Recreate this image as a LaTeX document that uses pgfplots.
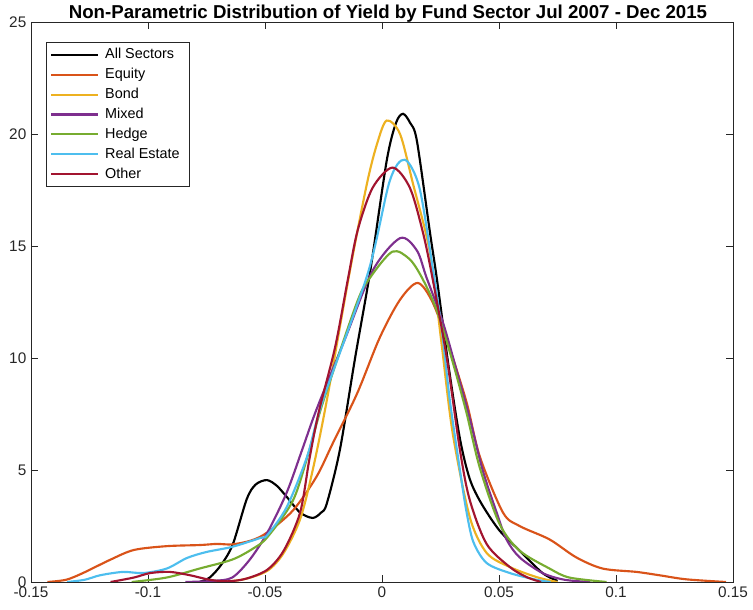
\documentclass[border=0pt]{standalone}
\usepackage{fontspec}
\setmainfont{Liberation Sans}
\usepackage{pgfplots}
\pgfplotsset{compat=1.18}

\definecolor{axgray}{HTML}{262626}
\definecolor{mOrange}{HTML}{D95319}
\definecolor{mYellow}{HTML}{EDB120}
\definecolor{mPurple}{HTML}{7E2F8E}
\definecolor{mGreen}{HTML}{77AC30}
\definecolor{mBlue}{HTML}{4DBEEE}
\definecolor{mRed}{HTML}{A2142F}

\begin{document}
\begin{tikzpicture}
\path[use as bounding box] (-23.25pt,-21pt) rectangle (541.5pt,436.5pt);
\begin{axis}[
  scale only axis, width=526.5pt, height=420pt,
  at={(0,0)}, anchor=south west,
  xmin=-0.15, xmax=0.15, ymin=0, ymax=25,
  xtick={-0.15,-0.1,-0.05,0,0.05,0.1,0.15},
  xticklabels={-0.15,-0.1,-0.05,0,0.05,0.1,0.15},
  ytick={0,5,10,15,20,25},
  /pgf/number format/assume math mode=true,
  tick label style={font=\fontsize{11.5}{13}\selectfont, text=axgray},
  axis line style={axgray, line width=0.6pt},
  major tick style={axgray, line width=0.6pt},
  major tick length=5pt,
  tick align=inside,
  every axis title shift=0pt,
  title={Non-Parametric Distribution of Yield by Fund Sector Jul 2007 - Dec 2015},
  title style={font=\fontsize{14}{16}\selectfont\bfseries, at={(0.5,1)}, anchor=base,
    yshift=2.5pt, xshift=4.5pt},
  legend cell align=left,
  legend style={at={(0.0214,0.964)}, anchor=north west, draw=axgray, line width=0.6pt,
    font=\fontsize{10.8}{12}\selectfont, inner xsep=3pt, inner ysep=2.5pt, row sep=1.6pt,
    nodes={inner xsep=4.5pt}},
  legend image code/.code={\draw[#1, line width=1.6pt] (0pt,0pt) -- (35pt,0pt);},
  every axis plot/.append style={line width=1.6pt, smooth, tension=0.5},
]
% All Sectors
\addplot[black] coordinates {
 (-0.078,0) (-0.0736,0.2) (-0.0685,0.8) (-0.0637,1.7) (-0.0578,3.7) (-0.054,4.35) (-0.0492,4.55)
 (-0.045,4.3) (-0.0407,3.8) (-0.035,3.1) (-0.0296,2.86) (-0.026,3.1) (-0.0236,3.5) (-0.018,5.9)
 (-0.0115,10.0) (-0.005,13.9) (0.002,18.8) (0.006,20.5) (0.009,20.9) (0.012,20.5) (0.0149,19.7)
 (0.0205,15.6) (0.0235,13.5) (0.0285,9.6) (0.0333,6.4) (0.0375,4.6) (0.0425,3.5) (0.0502,2.3)
 (0.0588,1.4) (0.0686,0.4) (0.075,0.05)
};
% Equity
\addplot[mOrange] coordinates {
 (-0.143,0) (-0.135,0.1) (-0.1278,0.4) (-0.116,1.0) (-0.106,1.43) (-0.092,1.6) (-0.0778,1.65)
 (-0.0706,1.7) (-0.064,1.68) (-0.056,1.85) (-0.0492,2.2) (-0.038,3.2) (-0.028,4.7) (-0.021,6.2)
 (-0.0107,8.4) (-0.001,10.9) (0.0077,12.6) (0.0153,13.35) (0.0218,12.45) (0.029,10.4) (0.0362,8.0)
 (0.0418,5.6) (0.0517,3.1) (0.0588,2.5) (0.0716,1.9) (0.083,1.1) (0.0943,0.6) (0.1088,0.45)
 (0.1186,0.3) (0.130,0.12) (0.147,0)
};
% Bond
\addplot[mYellow] coordinates {
 (-0.072,0) (-0.06,0.1) (-0.049,0.5) (-0.042,1.3) (-0.035,2.8) (-0.0296,5.0) (-0.0236,8.1)
 (-0.0137,13.9) (-0.0064,17.8) (-0.002,19.6) (0.002,20.6) (0.0077,20.0) (0.0132,17.8) (0.0205,14.7)
 (0.0255,10.6) (0.0302,6.65) (0.0375,2.9) (0.0447,1.3) (0.0546,0.67) (0.066,0.22) (0.075,0)
};
% Mixed
\addplot[mPurple] coordinates {
 (-0.084,0) (-0.072,0.05) (-0.064,0.2) (-0.0565,1.0) (-0.049,2.2) (-0.0407,4.0) (-0.0338,6.0)
 (-0.028,7.7) (-0.016,10.8) (-0.004,13.9) (0.0077,15.35) (0.0149,14.8) (0.019,13.6) (0.026,11.6)
 (0.032,9.4) (0.0375,7.3) (0.043,5.0) (0.049,3.1) (0.0532,1.9) (0.0588,1.1) (0.0686,0.4)
 (0.078,0.1) (0.089,0)
};
% Hedge
\addplot[mGreen] coordinates {
 (-0.107,0) (-0.092,0.2) (-0.078,0.6) (-0.064,1.0) (-0.055,1.5) (-0.049,2.0) (-0.038,3.65)
 (-0.031,5.9) (-0.0253,8.0) (-0.0108,12.45) (-0.005,13.6) (0.0045,14.75) (0.0119,14.4)
 (0.0175,13.5) (0.0235,12.1) (0.03,9.9) (0.036,7.6) (0.0418,5.1) (0.0502,2.6) (0.0588,1.4)
 (0.0716,0.6) (0.080,0.2) (0.096,0)
};
% Real Estate
\addplot[mBlue] coordinates {
 (-0.1346,0) (-0.127,0.1) (-0.1205,0.3) (-0.1107,0.45) (-0.102,0.4) (-0.092,0.6) (-0.0834,1.07)
 (-0.075,1.34) (-0.064,1.57) (-0.0522,1.96) (-0.049,2.1) (-0.0407,3.35) (-0.032,5.6) (-0.0253,8.1)
 (-0.006,13.8) (0.0033,17.9) (0.0097,18.85) (0.016,17.6) (0.0217,14.0) (0.0255,11.3) (0.029,8.1)
 (0.0333,5.0) (0.036,3.2) (0.039,1.8) (0.0447,0.85) (0.0546,0.4) (0.066,0.1) (0.072,0)
};
% Other
\addplot[mRed] coordinates {
 (-0.116,0) (-0.106,0.2) (-0.099,0.4) (-0.0906,0.45) (-0.082,0.3) (-0.0736,0.1) (-0.066,0.03)
 (-0.058,0.15) (-0.049,0.55) (-0.042,1.4) (-0.035,3.1) (-0.031,5.5) (-0.027,7.6) (-0.02,10.5)
 (-0.0146,13.5) (-0.0104,15.7) (-0.004,17.6) (0.0045,18.5) (0.0119,17.6) (0.0175,15.6)
 (0.0217,13.5) (0.0277,10.0) (0.0333,5.9) (0.0375,3.66) (0.0447,1.7) (0.0546,0.67) (0.0618,0.22)
 (0.068,0)
};
\legend{All Sectors,Equity,Bond,Mixed,Hedge,Real Estate,Other}
\end{axis}
\end{tikzpicture}
\end{document}
